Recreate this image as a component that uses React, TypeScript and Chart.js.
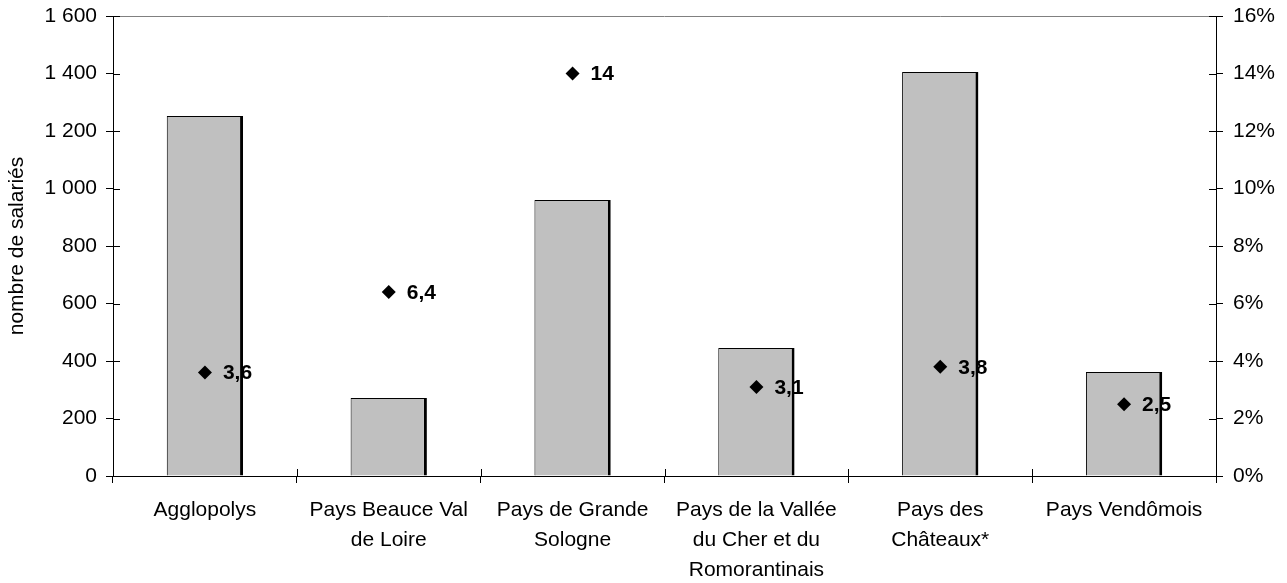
import React, { useEffect, useRef } from "react";
import { Chart, registerables } from "chart.js";

Chart.register(...registerables);

const categories: (string | string[])[] = [
  "Agglopolys",
  ["Pays Beauce Val", "de Loire"],
  ["Pays de Grande", "Sologne"],
  ["Pays de la Vallée", "du Cher et du", "Romorantinais"],
  ["Pays des", "Châteaux*"],
  "Pays Vendômois",
];
const salaries = [1252, 271, 960, 445, 1405, 362];
const pourcentages = [3.6, 6.4, 14, 3.1, 3.8, 2.5];
const leftTicks = [0, 200, 400, 600, 800, 1000, 1200, 1400, 1600];
const rightTicks = [0, 2, 4, 6, 8, 10, 12, 14, 16];

const FONT = "'Liberation Sans', Arial, sans-serif";

const fmtThousands = (v: number) =>
  String(v).replace(/\B(?=(\d{3})+(?!\d))/g, " ");

const decorPlugin = {
  id: "decor",
  afterDatasetsDraw(chart: any) {
    const { ctx, chartArea } = chart;
    const y = chart.scales.y;
    const y1 = chart.scales.y1;
    ctx.save();
    // top border of plot area
    ctx.strokeStyle = "#808080";
    ctx.lineWidth = 1;
    ctx.beginPath();
    ctx.moveTo(chartArea.left, Math.round(chartArea.top) + 0.5);
    ctx.lineTo(chartArea.right, Math.round(chartArea.top) + 0.5);
    ctx.stroke();
    // inner parts of tick marks
    ctx.strokeStyle = "#000";
    ctx.beginPath();
    leftTicks.forEach((v) => {
      const py = Math.round(y.getPixelForValue(v)) + 0.5;
      ctx.moveTo(chartArea.left, py);
      ctx.lineTo(chartArea.left + 7, py);
    });
    rightTicks.forEach((v) => {
      const py = Math.round(y1.getPixelForValue(v)) + 0.5;
      ctx.moveTo(chartArea.right - 7, py);
      ctx.lineTo(chartArea.right, py);
    });
    const n = categories.length;
    for (let i = 0; i <= n; i++) {
      const px =
        Math.round(chartArea.left + ((chartArea.right - chartArea.left) * i) / n) + 0.5;
      ctx.moveTo(px, chartArea.bottom - 7);
      ctx.lineTo(px, chartArea.bottom);
    }
    ctx.stroke();
    // point labels
    const meta = chart.getDatasetMeta(1);
    ctx.fillStyle = "#000";
    ctx.font = `bold 21px ${FONT}`;
    ctx.textAlign = "left";
    ctx.textBaseline = "middle";
    meta.data.forEach((pt: any, i: number) => {
      const label = String(pourcentages[i]).replace(".", ",");
      ctx.fillText(label, pt.x + 18, pt.y + 1);
    });
    ctx.restore();
  },
};

export default function App() {
  const ref = useRef<HTMLCanvasElement>(null);
  useEffect(() => {
    if (!ref.current) return;
    const chart = new Chart(ref.current, {
      type: "bar",
      data: {
        labels: categories,
        datasets: [
          {
            type: "bar",
            data: salaries,
            backgroundColor: "#C0C0C0",
            borderColor: "#000",
            borderWidth: { top: 1, left: 1, right: 3, bottom: 0 } as any,
            borderSkipped: false,
            categoryPercentage: 1,
            barPercentage: 0.415,
            yAxisID: "y",
            order: 2,
          },
          {
            type: "line",
            data: pourcentages,
            showLine: false,
            pointStyle: "rectRot",
            pointRadius: 7,
            pointBackgroundColor: "#000",
            pointBorderColor: "#000",
            pointBorderWidth: 0,
            yAxisID: "y1",
            order: 1,
          } as any,
        ],
      },
      options: {
        animation: false,
        responsive: true,
        maintainAspectRatio: false,
        layout: { padding: { top: 16, left: 0, right: 0, bottom: 0 } },
        plugins: {
          legend: { display: false },
          tooltip: { enabled: false },
        },
        scales: {
          x: {
            grid: {
              display: true,
              drawOnChartArea: false,
              drawTicks: true,
              tickLength: 7,
              color: "#000",
              offset: true,
            },
            border: { display: true, color: "#000", width: 1 },
            ticks: {
              color: "#000",
              font: { family: FONT, size: 21, lineHeight: 1.43 },
              autoSkip: false,
              maxRotation: 0,
              minRotation: 0,
              padding: 12,
            },
            afterFit: (s: any) => {
              s.height = 107;
              s.paddingLeft = 0;
              s.paddingRight = 0;
            },
          },
          y: {
            position: "left",
            min: 0,
            max: 1600,
            grid: {
              display: true,
              drawOnChartArea: false,
              drawTicks: true,
              tickLength: 7,
              color: "#000",
            },
            border: { display: true, color: "#000", width: 1 },
            ticks: {
              stepSize: 200,
              color: "#000",
              font: { family: FONT, size: 21 },
              padding: 9,
              callback: (v: any) => fmtThousands(Number(v)),
            },
            title: {
              display: true,
              text: "nombre de salariés",
              color: "#000",
              font: { family: FONT, size: 21 },
              padding: { top: 5, bottom: 0 },
            },
            afterFit: (s: any) => {
              s.width = 113;
              s.paddingTop = 0;
              s.paddingBottom = 0;
            },
          },
          y1: {
            position: "right",
            min: 0,
            max: 16,
            grid: {
              display: true,
              drawOnChartArea: false,
              drawTicks: true,
              tickLength: 7,
              color: "#000",
            },
            border: { display: true, color: "#000", width: 1 },
            ticks: {
              stepSize: 2,
              color: "#000",
              font: { family: FONT, size: 21 },
              padding: 10,
              callback: (v: any) => `${v}%`,
            },
            afterFit: (s: any) => {
              s.width = 71;
              s.paddingTop = 0;
              s.paddingBottom = 0;
            },
          },
        },
      },
      plugins: [decorPlugin],
    });
    return () => chart.destroy();
  }, []);
  return (
    <div style={{ position: "absolute", left: 0, top: 0, width: 1287, height: 583 }}>
      <canvas ref={ref} />
    </div>
  );
}
